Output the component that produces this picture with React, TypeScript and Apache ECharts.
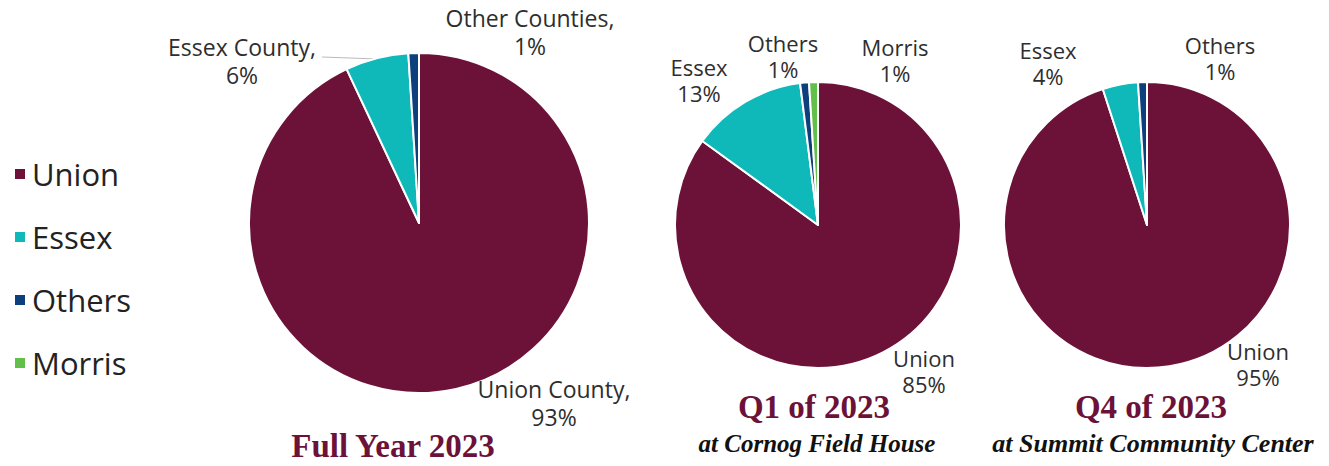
import React, { useEffect, useRef } from "react";
import * as echarts from "echarts";

const legendNames = ["Union", "Essex", "Others", "Morris"];
const colors = ["#6c1239", "#0fb8b9", "#0c3f7c", "#62bf49"];

const fullYearNames = ["Union County,", "Essex County,", "Other Counties,"];
const fullYearValues = [93, 6, 1];

const q1Names = ["Union", "Essex", "Others", "Morris"];
const q1Values = [85, 13, 1, 1];

const q4Names = ["Union", "Essex", "Others"];
const q4Values = [95, 4, 1];

const titles = ["Full Year 2023", "Q1 of 2023", "Q4 of 2023"];
const subtitles = ["", "at Cornog Field House", "at Summit Community Center"];

// label anchor positions (px) per pie, per slice
const labelPos = [
  [[554, 403], [242, 61], [530, 32]],
  [[924, 371], [699, 80], [783, 56], [895, 60]],
  [[1258, 364], [1048, 63], [1220, 58]],
];

const pies = [
  { names: fullYearNames, values: fullYearValues, center: [419, 223], r: 170, fs: 23, lh: 28 },
  { names: q1Names, values: q1Values, center: [818, 225], r: 143, fs: 22, lh: 26 },
  { names: q4Names, values: q4Values, center: [1147, 225], r: 143, fs: 22, lh: 26 },
];

export default function App() {
  const ref = useRef<HTMLDivElement>(null);
  useEffect(() => {
    document.body.style.margin = "0";
    const chart = echarts.init(ref.current!, null, { renderer: "svg" });
    const series = pies.map((p, pi) => ({
      type: "pie",
      center: p.center,
      radius: p.r,
      startAngle: 90,
      clockwise: true,
      avoidLabelOverlap: false,
      silent: true,
      itemStyle: { borderColor: "#ffffff", borderWidth: 2 },
      label: {
        show: true,
        position: "outside",
        fontFamily: "Open Sans",
        fontSize: p.fs,
        lineHeight: p.lh,
        color: "#2e2e2e",
        align: "center",
        formatter: (params: any) => p.names[params.dataIndex] + "\n" + params.value + "%",
      },
      labelLine: { show: false },
      labelLayout: (params: any) => {
        const pos = labelPos[pi][params.dataIndex];
        return { x: pos[0], y: pos[1], align: "center", verticalAlign: "middle" };
      },
      data: p.values.map((v, i) => ({
        name: legendNames[i],
        value: v,
        itemStyle: { color: colors[i] },
      })),
    }));
    const titleStyle = (text: string) => ({
      text,
      font: "bold 33px 'Liberation Serif'",
      fill: "#6c1239",
      textAlign: "center",
      textVerticalAlign: "middle",
    });
    const subStyle = (text: string, size: number) => ({
      text,
      font: "italic bold " + size + "px 'Liberation Serif'",
      fill: "#111111",
      textAlign: "center",
      textVerticalAlign: "middle",
    });
    const graphic: any[] = [
      {
        type: "line",
        shape: { x1: 322, y1: 57, x2: 378, y2: 59 },
        style: { stroke: "#bbbbbb", lineWidth: 1.2 },
      },
      { type: "text", x: 393, y: 446, style: titleStyle(titles[0]) },
      { type: "text", x: 814, y: 407, style: titleStyle(titles[1]) },
      { type: "text", x: 1151, y: 407, style: titleStyle(titles[2]) },
      { type: "text", x: 817, y: 443, style: subStyle(subtitles[1], 25) },
      { type: "text", x: 1153, y: 443, style: subStyle(subtitles[2], 26) },
    ];
    chart.setOption({
      animation: false,
      backgroundColor: "#ffffff",
      legend: {
        data: legendNames,
        orient: "vertical",
        left: 8,
        top: 152,
        icon: "rect",
        itemWidth: 12,
        itemHeight: 12,
        itemGap: 29,
        selectedMode: false,
        textStyle: {
          fontFamily: "Open Sans",
          fontSize: 31,
          lineHeight: 34,
          color: "#222222",
          padding: [0, 0, 0, 1],
        },
      },
      graphic,
      series,
    });
    return () => chart.dispose();
  }, []);
  return (
    <div
      ref={ref}
      style={{ position: "absolute", left: 0, top: 0, width: 1329, height: 466 }}
    />
  );
}
